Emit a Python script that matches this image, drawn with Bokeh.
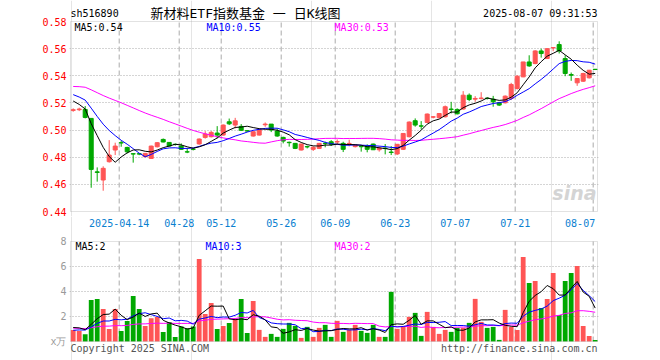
import numpy as np
import pandas as pd
from bokeh.plotting import figure
from bokeh.layouts import column
from bokeh.models import FixedTicker, PrintfTickFormatter, Label, Range1d, ColumnDataSource, BoxAnnotation
from bokeh.core.properties import value
from bokeh.embed import file_html
from bokeh.resources import INLINE

# ---------------- data ----------------
code = "sh516890"
title = "新材料ETF指数基金 一 日K线图"
stamp = "2025-08-07 09:31:53"
tick_idx = [8, 18, 25, 35, 44, 54, 64, 74, 87]
tick_labels = ["2025-04-14", "04-28", "05-12", "05-26", "06-09", "06-23", "07-07", "07-21", "08-07"]
price_ticks = [0.44, 0.46, 0.48, 0.50, 0.52, 0.54, 0.56, 0.58]
vol_ticks = [0, 2, 4, 6, 8]
vol_unit = "x万"
copyright_txt = "Copyright 2025 SINA.COM"
url_txt = "http://finance.sina.com.cn"

open_ = [0.5145, 0.5150, 0.5152, 0.5086, 0.4692, 0.4632, 0.4767, 0.4853, 0.4907, 0.4872,
         0.4826, 0.4826, 0.4804, 0.4791, 0.4877, 0.4931, 0.4909, 0.4895, 0.4882, 0.4840,
         0.4860, 0.4898, 0.4946, 0.4951, 0.4978, 0.4963, 0.5061, 0.5037, 0.5027, 0.4995,
         0.4956, 0.4963, 0.5039, 0.5044, 0.4993, 0.4946, 0.4910, 0.4902, 0.4853, 0.4878,
         0.4858, 0.4865, 0.4903, 0.4914, 0.4912, 0.4902, 0.4900, 0.4878, 0.4880, 0.4882,
         0.4897, 0.4855, 0.4867, 0.4838, 0.4824, 0.4858, 0.4951, 0.5069, 0.5031, 0.5056,
         0.5095, 0.5091, 0.5098, 0.5155, 0.5152, 0.5155, 0.5257, 0.5228, 0.5233, 0.5235,
         0.5228, 0.5201, 0.5201, 0.5233, 0.5306, 0.5392, 0.5502, 0.5490, 0.5583, 0.5527,
         0.5605, 0.5630, 0.5527, 0.5409, 0.5348, 0.5360, 0.5385, 0.5448]
high = [0.5160, 0.5165, 0.5177, 0.5086, 0.4725, 0.4733, 0.4926, 0.4907, 0.4921, 0.4877,
        0.4828, 0.4830, 0.4831, 0.4885, 0.4912, 0.4938, 0.4912, 0.4900, 0.4902, 0.4867,
        0.4865, 0.4938, 0.4992, 0.4993, 0.5029, 0.5041, 0.5085, 0.5090, 0.5044, 0.4998,
        0.4990, 0.5007, 0.5056, 0.5044, 0.5012, 0.4951, 0.4915, 0.4905, 0.4900, 0.4885,
        0.4880, 0.4905, 0.4915, 0.4926, 0.4931, 0.4914, 0.4929, 0.4892, 0.4890, 0.4895,
        0.4900, 0.4880, 0.4897, 0.4882, 0.4897, 0.4977, 0.5064, 0.5086, 0.5066, 0.5122,
        0.5103, 0.5125, 0.5181, 0.5208, 0.5160, 0.5287, 0.5270, 0.5250, 0.5279, 0.5240,
        0.5252, 0.5208, 0.5255, 0.5348, 0.5404, 0.5502, 0.5551, 0.5588, 0.5600, 0.5600,
        0.5610, 0.5654, 0.5551, 0.5424, 0.5380, 0.5422, 0.5443, 0.5448]
low = [0.5135, 0.5140, 0.5086, 0.4575, 0.4620, 0.4553, 0.4760, 0.4816, 0.4877, 0.4828,
       0.4760, 0.4815, 0.4799, 0.4790, 0.4872, 0.4910, 0.4880, 0.4885, 0.4853, 0.4830,
       0.4850, 0.4892, 0.4937, 0.4946, 0.4939, 0.4959, 0.5037, 0.5012, 0.4993, 0.4988,
       0.4952, 0.4960, 0.5024, 0.4985, 0.4951, 0.4902, 0.4878, 0.4860, 0.4850, 0.4865,
       0.4846, 0.4860, 0.4873, 0.4883, 0.4890, 0.4838, 0.4880, 0.4872, 0.4841, 0.4836,
       0.4853, 0.4841, 0.4821, 0.4816, 0.4816, 0.4853, 0.4946, 0.5025, 0.5005, 0.5054,
       0.5086, 0.5088, 0.5093, 0.5123, 0.5115, 0.5150, 0.5213, 0.5208, 0.5225, 0.5225,
       0.5172, 0.5177, 0.5196, 0.5221, 0.5299, 0.5390, 0.5466, 0.5485, 0.5534, 0.5525,
       0.5581, 0.5564, 0.5397, 0.5363, 0.5326, 0.5355, 0.5380, 0.5446]
close = [0.5150, 0.5155, 0.5093, 0.4710, 0.4688, 0.4718, 0.4816, 0.4882, 0.4905, 0.4840,
         0.4823, 0.4823, 0.4828, 0.4882, 0.4907, 0.4912, 0.4882, 0.4894, 0.4858, 0.4838,
         0.4858, 0.4934, 0.4971, 0.4983, 0.4963, 0.5037, 0.5046, 0.5068, 0.4998, 0.4993,
         0.4988, 0.5005, 0.5044, 0.5000, 0.4956, 0.4919, 0.4907, 0.4865, 0.4897, 0.4876,
         0.4873, 0.4902, 0.4900, 0.4895, 0.4915, 0.4858, 0.4902, 0.4890, 0.4877, 0.4858,
         0.4855, 0.4867, 0.4864, 0.4835, 0.4895, 0.4975, 0.5059, 0.5037, 0.5029, 0.5118,
         0.5098, 0.5122, 0.5172, 0.5152, 0.5120, 0.5257, 0.5225, 0.5233, 0.5236, 0.5233,
         0.5208, 0.5184, 0.5250, 0.5336, 0.5397, 0.5502, 0.5473, 0.5583, 0.5564, 0.5600,
         0.5608, 0.5583, 0.5417, 0.5404, 0.5380, 0.5417, 0.5441, 0.5446]
volume = [0.93, 0.85, 0.59, 3.33, 3.41, 2.61, 1.01, 2.61, 0.85, 1.65,
          3.65, 2.61, 1.25, 1.87, 1.97, 0.77, 1.57, 0.37, 1.20, 1.07,
          1.20, 6.61, 2.21, 3.09, 1.01, 1.25, 1.49, 1.87, 3.41, 0.69,
          3.25, 0.93, 0.37, 0.61, 0.37, 1.01, 1.49, 1.25, 0.29, 1.17,
          0.37, 1.09, 1.33, 0.37, 1.65, 0.77, 0.93, 1.33, 0.85, 0.69,
          1.33, 0.37, 0.37, 3.97, 1.01, 1.17, 1.97, 2.29, 0.45, 2.37,
          1.17, 0.61, 0.93, 0.77, 1.09, 1.09, 1.49, 3.41, 1.57, 1.09,
          1.17, 0.13, 2.53, 1.17, 0.93, 6.77, 4.69, 4.85, 2.69, 3.41,
          5.49, 2.13, 4.85, 5.49, 6.05, 1.25, 0.45, 0.13]
# closes / volumes of the 29 sessions before the first visible one (feed the moving averages)
pre_close = [0.520, 0.522, 0.528, 0.532, 0.535, 0.538, 0.540, 0.542, 0.541, 0.539,
             0.540, 0.538, 0.537, 0.536, 0.538, 0.540, 0.537, 0.535, 0.533, 0.532,
             0.533, 0.532, 0.530, 0.530, 0.529, 0.528, 0.526, 0.525, 0.513]
pre_volume = [1.3, 1.1, 1.4, 1.0, 1.2, 0.9, 1.3, 1.1, 1.0, 1.2,
              1.5, 1.1, 0.9, 1.2, 1.3, 1.0, 1.1, 1.2, 1.0, 1.2,
              0.6, 0.7, 0.8, 0.6, 0.7, 1.0, 1.3, 1.2, 1.17]

# ---------------- derived ----------------
RED, GREEN = "#ff5555", "#00a800"
MONO = "DejaVu Sans Mono"
GRID = "#aaaaaa"
BOX = "#a0a0a0"
DATE_C = "#0a80d0"
n = len(close)
xs = np.arange(n) + 1 / 3.0
colors = [RED if c >= o else GREEN for o, c in zip(open_, close)]


def ma(pre, vals, w):
    s = pd.Series(list(pre) + list(vals))
    return s.rolling(w).mean().to_numpy()[-len(vals):]


src = ColumnDataSource(dict(
    x=xs, high=high, low=low,
    top=np.maximum(open_, close), bot=np.minimum(open_, close),
    vol=volume, color=colors,
    ma5=ma(pre_close, close, 5), ma10=ma(pre_close, close, 10), ma30=ma(pre_close, close, 30),
    vma5=ma(pre_volume, volume, 5), vma10=ma(pre_volume, volume, 10), vma30=ma(pre_volume, volume, 30),
))

PX = 1 / 6.0            # x units per screen pixel
X0, X1 = -0.117, 87.72  # box edges
P_LO, P_HI = price_ticks[0], price_ticks[-1]
ppx = (P_HI - P_LO) / 190.0   # price per pixel
V_LO, V_HI = vol_ticks[0], vol_ticks[-1]
vpx = (V_HI - V_LO) / 100.0   # volume per pixel


def make_fig(h, y0, y1):
    p = figure(width=660, height=h, x_range=Range1d(X0 - PX, X1 + PX), y_range=Range1d(y0, y1),
               output_backend="svg", toolbar_location=None, title=None,
               x_axis_location=None,
               min_border_left=69, min_border_right=62, min_border_top=0, min_border_bottom=0,
               outline_line_color=None,
               background_fill_color="white", border_fill_color="white")
    p.yaxis.axis_line_color = None
    p.yaxis.major_tick_line_color = None
    p.yaxis.minor_tick_line_color = None
    p.yaxis.major_tick_out = 0
    p.yaxis.major_tick_in = 0
    p.yaxis.major_label_standoff = 3
    p.yaxis.major_label_text_font = MONO
    p.yaxis.major_label_text_font_size = "10px"
    p.ygrid.grid_line_color = GRID
    p.ygrid.grid_line_dash = "1 2"
    return p


# ---------------- price panel (y 0..216 px) ----------------
p1 = make_fig(216, P_LO - 5 * ppx, P_HI + 21 * ppx)
p1.yaxis.ticker = FixedTicker(ticks=price_ticks)
p1.ygrid.ticker = FixedTicker(ticks=price_ticks[1:-1])
p1.yaxis.formatter = PrintfTickFormatter(format="%.2f")
p1.yaxis.major_label_text_color = "#ff0000"

p1.segment(x0=tick_idx, y0=P_LO, x1=tick_idx, y1=P_HI, line_color=GRID, line_dash="5 3", line_width=1)
p1.segment(x0="x", y0="low", x1="x", y1="high", color="color", line_width=1, source=src)
p1.vbar(x="x", width=0.67, top="top", bottom="bot", fill_color="color", line_color="color",
        line_width=1, source=src)
p1.line("x", "ma30", color="#ff00ff", line_width=1, source=src)
p1.line("x", "ma10", color="#0000ff", line_width=1, source=src)
p1.line("x", "ma5", color="#000000", line_width=1, source=src)
p1.add_layout(BoxAnnotation(left=X0, right=X1, bottom=P_LO, top=P_HI, fill_color=None,
                            line_color=BOX, line_width=1))

hy = P_HI + 8 * ppx
p1.add_layout(Label(x=X0, y=hy, text=code, text_align="left", text_baseline="middle",
                    text_font=MONO, text_font_size="10px", text_color="#000000"))
p1.add_layout(Label(x=13.22, y=hy, text=title, text_align="left", text_baseline="middle",
                    text_font="DejaVu Sans Mono, Noto Sans CJK SC", text_font_size="13px",
                    text_color="#000000"))
p1.add_layout(Label(x=X1, y=hy, text=stamp, text_align="right", text_baseline="middle",
                    text_font=MONO, text_font_size="10px", text_color="#000000"))

my = P_HI - 6.3 * ppx
for xx, txt, col in [(0.55, "MA5:%.2f" % src.data["ma5"][-1], "#000000"),
                     (22.55, "MA10:%.2f" % src.data["ma10"][-1], "#0000ff"),
                     (43.9, "MA30:%.2f" % src.data["ma30"][-1], "#ff00ff")]:
    p1.add_layout(Label(x=xx, y=my, text=txt, text_align="left", text_baseline="middle",
                        text_font=MONO, text_font_size="10px", text_color=col))

p1.add_layout(Label(x=X1, y=P_LO + 8 * ppx, text="sina", text_align="right", text_baseline="bottom",
                    text_font="DejaVu Sans", text_font_style="bold italic", text_font_size="19px",
                    text_color="#d4d4d4", x_offset=-1))

# ---------------- volume panel (y 216..360 px) ----------------
p2 = make_fig(144, V_LO - 19 * vpx, V_HI + 25 * vpx)
p2.yaxis.ticker = FixedTicker(ticks=vol_ticks)
p2.ygrid.ticker = FixedTicker(ticks=vol_ticks[1:-1])
p2.yaxis.major_label_overrides = {0: vol_unit}
p2.yaxis.major_label_text_color = "#999999"

p2.segment(x0=tick_idx, y0=V_LO, x1=tick_idx, y1=V_HI, line_color=GRID, line_dash="5 3", line_width=1)
p2.vbar(x="x", width=0.8, top="vol", bottom=0, fill_color="color", line_color=None, source=src)
p2.line("x", "vma30", color="#ff00ff", line_width=1, source=src)
p2.line("x", "vma10", color="#0000ff", line_width=1, source=src)
p2.line("x", "vma5", color="#000000", line_width=1, source=src)
p2.add_layout(BoxAnnotation(left=X0, right=X1, bottom=V_LO, top=V_HI, fill_color=None,
                            line_color=BOX, line_width=1))

# date labels (between the panels)
dy = V_HI + 19 * vpx
p2.text(x=tick_idx[:-1], y=[dy] * (len(tick_idx) - 1), text=tick_labels[:-1],
        text_align="center", text_baseline="middle", text_font=value(MONO),
        text_font_size="10px", text_color=DATE_C)
p2.text(x=tick_idx[-1:], y=[dy], text=tick_labels[-1:], x_offset=2,
        text_align="right", text_baseline="middle", text_font=value(MONO),
        text_font_size="10px", text_color=DATE_C)

vy = V_HI - 5 * vpx
for xx, txt, col in [(0.72, "MA5:%d" % int(src.data["vma5"][-1]), "#000000"),
                     (22.38, "MA10:%d" % int(src.data["vma10"][-1]), "#0000ff"),
                     (43.88, "MA30:%d" % int(src.data["vma30"][-1]), "#ff00ff")]:
    p2.add_layout(Label(x=xx, y=vy, text=txt, text_align="left", text_baseline="middle",
                        text_font=MONO, text_font_size="10px", text_color=col))

by = V_LO - 6.5 * vpx
p2.add_layout(Label(x=X0, y=by, text=copyright_txt, text_align="left", text_baseline="middle",
                    text_font=MONO, text_font_size="10px", text_color="#555555"))
p2.add_layout(Label(x=X1, y=by, text=url_txt, text_align="right", text_baseline="middle",
                    text_font=MONO, text_font_size="10px", text_color="#555555"))

layout = column(p1, p2, spacing=0)
open("out.html", "w").write(file_html(layout, INLINE))
